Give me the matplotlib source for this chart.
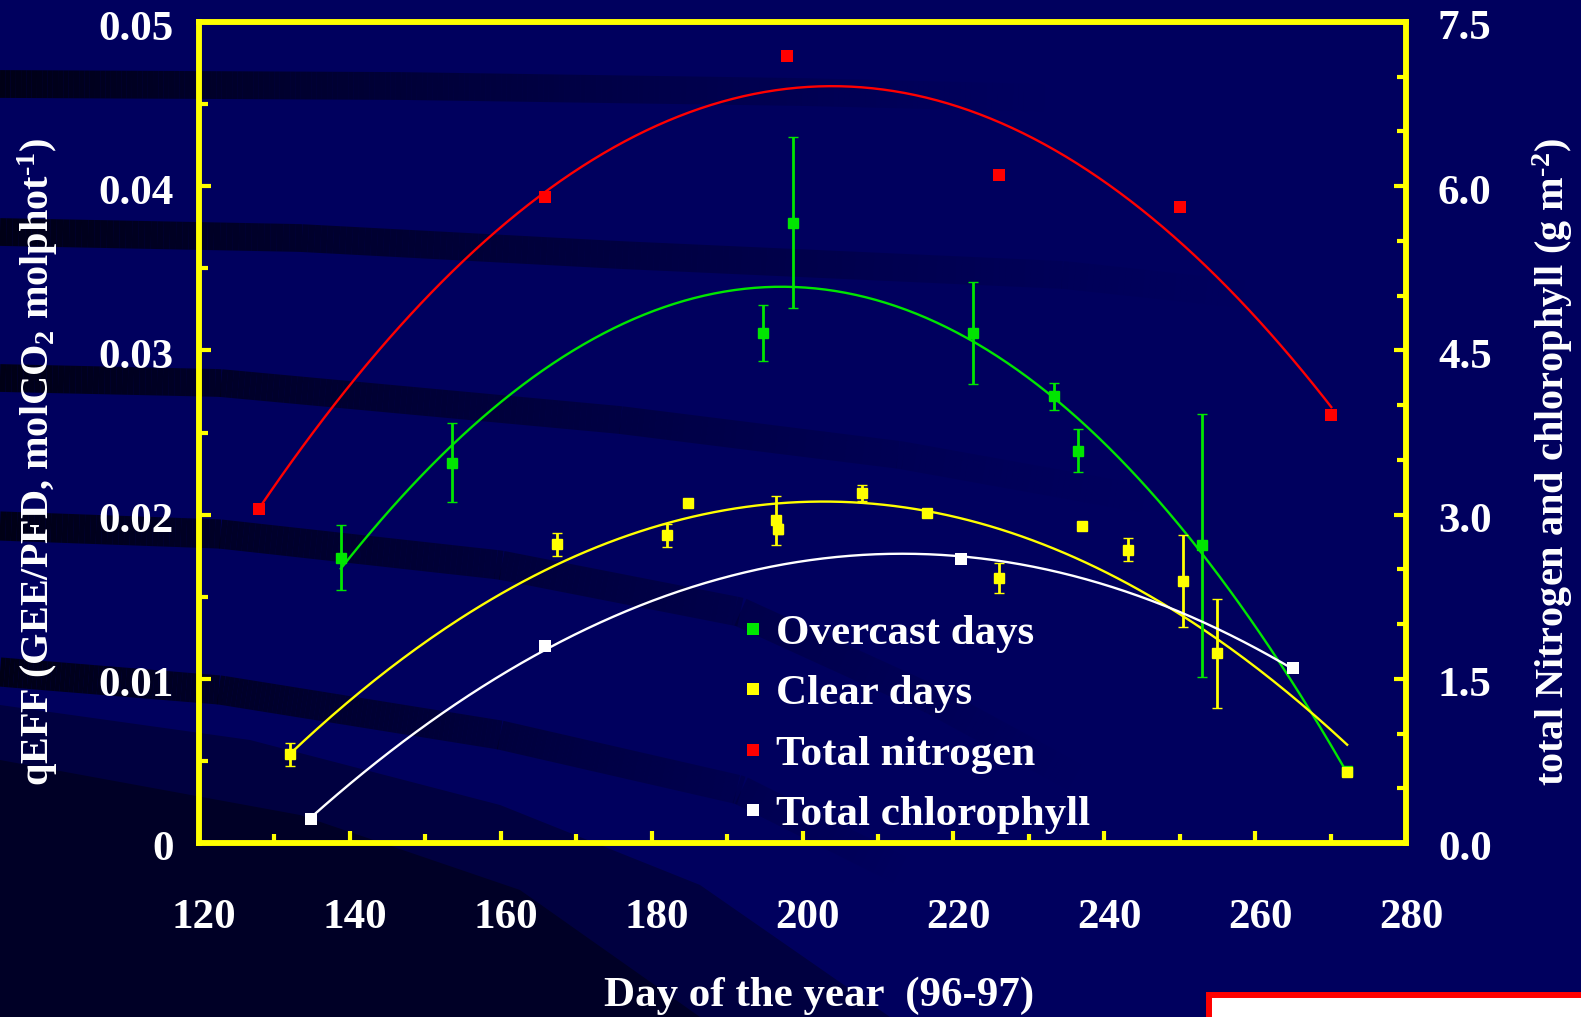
import numpy as np
import matplotlib
matplotlib.use("Agg")
import matplotlib.pyplot as plt
from matplotlib.lines import Line2D
from matplotlib.patches import Rectangle, Polygon
from matplotlib.collections import LineCollection
import matplotlib.transforms as mtrans

# ---------------- data ----------------
green_day = [138.8, 153.6, 194.7, 198.7, 222.6, 233.3, 236.5, 253.0, 272.2]
green_val = [0.01738, 0.02315, 0.03107, 0.03777, 0.03107, 0.0272, 0.02389, 0.01812, 0.00440]
green_err = [0.0020, 0.0024, 0.0017, 0.0052, 0.0031, 0.0008, 0.0013, 0.0080, 0.0]

yellow_day = [132.0, 167.5, 182.1, 184.8, 196.5, 196.8, 207.9, 216.5, 226.0, 237.1, 243.1, 250.4, 255.0, 272.2]
yellow_val = [0.0054, 0.01818, 0.01873, 0.0207, 0.01965, 0.0191, 0.02131, 0.02008, 0.01615, 0.01928,
              0.01787, 0.01597, 0.01155, 0.0043]
yellow_err = [0.0007, 0.0007, 0.0007, 0.0002, 0.0015, 0.0003, 0.0005, 0.0002, 0.0009, 0.0002,
              0.0007, 0.0028, 0.0033, 0.0002]

nitrogen_day = [128.0, 165.9, 197.9, 226.0, 250.0, 270.1]
nitrogen_val = [3.05, 5.90, 7.19, 6.10, 5.81, 3.91]

chl_day = [134.9, 165.9, 221.0, 265.0]
chl_val = [0.22, 1.80, 2.59, 1.60]

x_ticks = [120, 140, 160, 180, 200, 220, 240, 260, 280]
x_minor = [130, 150, 170, 190, 210, 230, 250, 270]
left_ticks = [0, 0.01, 0.02, 0.03, 0.04, 0.05]
left_minor = [0.005, 0.015, 0.025, 0.035, 0.045]
left_labels = ["0", "0.01", "0.02", "0.03", "0.04", "0.05"]
right_ticks = [0.0, 1.5, 3.0, 4.5, 6.0, 7.5]
right_minor = [0.5, 1.0, 2.0, 2.5, 3.5, 4.0, 5.0, 5.5, 6.5, 7.0]
right_labels = ["0.0", "1.5", "3.0", "4.5", "6.0", "7.5"]

legend_labels = ["Overcast days", "Clear days", "Total nitrogen", "Total chlorophyll"]

# ---------------- style ----------------
W, H = 1581, 1017
BG = "#00005e"
GREEN = "#00e600"
YELLOW = "#ffff00"
RED = "#ff0000"
WHITE = "#ffffff"
FRAME = "#ffff00"
FONT = "Liberation Serif"

plt.rcParams["font.family"] = [FONT, "DejaVu Serif"]
plt.rcParams["font.weight"] = "bold"
plt.rcParams["mathtext.fontset"] = "custom"
plt.rcParams["mathtext.rm"] = "Liberation Serif:bold"
plt.rcParams["mathtext.it"] = "Liberation Serif:italic:bold"
plt.rcParams["mathtext.bf"] = "Liberation Serif:bold"
plt.rcParams["mathtext.default"] = "rm"

fig = plt.figure(figsize=(W / 100, H / 100), dpi=100, facecolor=BG)

# ---------------- decorative background ----------------
bg = fig.add_axes([0, 0, 1, 1], zorder=-10)
bg.set_xlim(0, W)
bg.set_ylim(H, 0)
bg.axis("off")

bg.add_patch(Polygon([(0, 705), (250, 740), (500, 805), (700, 885), (890, 1017), (0, 1017)],
                     closed=True, facecolor="#000040", edgecolor="none"))
bg.add_patch(Polygon([(0, 760), (300, 815), (520, 890), (700, 1017), (0, 1017)],
                     closed=True, facecolor="#000026", edgecolor="none"))


def band(pts, width, power):
    pts = np.array(pts, dtype=float)
    t = np.linspace(0, 1, 200)
    seg_len = np.r_[0, np.cumsum(np.hypot(np.diff(pts[:, 0]), np.diff(pts[:, 1])))]
    s = t * seg_len[-1]
    xs = np.interp(s, seg_len, pts[:, 0])
    ys = np.interp(s, seg_len, pts[:, 1])
    segs = [[(xs[i], ys[i]), (xs[i + 1], ys[i + 1])] for i in range(len(xs) - 1)]
    alphas = (1 - t[:-1]) ** power
    cols = [(0, 0, 0.06, 0.9 * a) for a in alphas]
    bg.add_collection(LineCollection(segs, colors=cols, linewidths=width, capstyle="butt"))


band([(0, 84), (400, 86), (800, 92), (1050, 98)], 20, 1.3)
band([(0, 232), (300, 238), (620, 255), (1064, 275), (1250, 295)], 20, 1.3)
band([(0, 378), (220, 383), (620, 420), (900, 455), (1150, 500)], 20, 1.3)
band([(0, 526), (220, 534), (500, 565), (740, 612), (933, 700), (1080, 780)], 21, 1.2)
band([(0, 672), (220, 690), (500, 735), (740, 790), (900, 870)], 21, 1.0)

# white box with red border (bottom right)
bg.add_patch(Rectangle((1209, 995), 420, 60, facecolor="white", edgecolor=RED, linewidth=4.3))

# ---------------- main axes ----------------
ax = fig.add_axes([199 / W, (H - 843) / H, 1207 / W, 821 / H])
ax.set_facecolor("none")
ax2 = ax.twinx()

ax.set_xlim(120, 280)
ax.set_ylim(0, 0.05)
ax2.set_ylim(0, 7.5)

for a in (ax, ax2):
    for sp in a.spines.values():
        sp.set_color(FRAME)
        sp.set_linewidth(4)
        sp.set_capstyle("projecting")


def fit_line(axis, xd, yd, deg, color):
    c = np.polyfit(xd, yd, deg)
    xx = np.linspace(min(xd), max(xd), 300)
    axis.plot(xx, np.polyval(c, xx), color=color, lw=1.7, zorder=2)


fit_line(ax, green_day, green_val, 3, GREEN)
fit_line(ax, yellow_day, yellow_val, 2, YELLOW)
fit_line(ax2, nitrogen_day, nitrogen_val, 2, RED)
fit_line(ax2, chl_day, chl_val, 2, WHITE)

eb_kw = dict(fmt="s", ms=7.5, mew=1.0, capsize=3.8, elinewidth=2.0, capthick=2.0, zorder=3)
ax.errorbar(green_day, green_val, yerr=green_err, color=GREEN, mec=GREEN, **eb_kw)
ax.errorbar(yellow_day, yellow_val, yerr=yellow_err, color=YELLOW, mec=YELLOW, **eb_kw)
ax2.plot(nitrogen_day, nitrogen_val, "s", color=RED, ms=8.5, mew=0, zorder=3)
ax2.plot(chl_day, chl_val, "s", color=WHITE, ms=8.5, mew=0, zorder=3)

# ticks
ax.set_xticks(x_ticks)
ax.set_xticks(x_minor, minor=True)
ax.set_xticklabels([str(v) for v in x_ticks])
ax.set_yticks(left_ticks)
ax.set_yticks(left_minor, minor=True)
ax.set_yticklabels(left_labels)
ax2.set_yticks(right_ticks)
ax2.set_yticks(right_minor, minor=True)
ax2.set_yticklabels(right_labels)

ax.tick_params(axis="x", which="both", direction="in", color=FRAME, width=3, top=False,
               labelsize=31, labelcolor="white", pad=40)
ax.tick_params(axis="x", which="major", length=8.6)
ax.tick_params(axis="x", which="minor", length=6.5)
ax.tick_params(axis="y", which="both", direction="in", color=FRAME, width=3, right=False,
               labelsize=31, labelcolor="white", pad=18)
ax.tick_params(axis="y", which="major", length=8.6)
ax.tick_params(axis="y", which="minor", length=6.5)
ax2.tick_params(axis="y", which="both", direction="in", color=FRAME, width=3,
                labelsize=31, labelcolor="white", pad=23)
ax2.tick_params(axis="y", which="major", length=8.6)
ax2.tick_params(axis="y", which="minor", length=6.5)

for lab in ax.get_xticklabels():
    lab.set_fontweight("bold")
    lab.set_transform(lab.get_transform() + mtrans.ScaledTranslation(5 / 100, 0, fig.dpi_scale_trans))
for lab in ax.get_yticklabels() + ax2.get_yticklabels():
    lab.set_fontweight("bold")
    lab.set_transform(lab.get_transform() + mtrans.ScaledTranslation(0, -3 / 100, fig.dpi_scale_trans))

# axis labels
ax.set_xlabel("Day of the year  (96-97)", fontsize=31, color="white", fontweight="bold")
ax.xaxis.set_label_coords((819 - 199) / 1207, (843 - 996) / 821)
ax.xaxis.label.set_va("center")
ax.set_ylabel(r"qEFF (GEE/PFD, molCO$_2$ molphot$^{\text{-1}}$)", fontsize=29, color="white",
              fontweight="bold")
ax.yaxis.set_label_coords((38 - 199) / 1207, (843 - 462) / 821)
ax.yaxis.label.set_va("center")
ax2.set_ylabel(r"total Nitrogen and chlorophyll (g m$^{\text{-2}}$)", fontsize=29, color="white",
               fontweight="bold", rotation=90)
ax2.yaxis.set_label_coords((1553 - 199) / 1207, (843 - 462) / 821)
ax2.yaxis.label.set_va("center")

# legend
handles = [Line2D([], [], ls="none", marker="s", ms=8.5, mew=0, color=c)
           for c in (GREEN, YELLOW, RED, WHITE)]
leg = ax2.legend(handles, legend_labels, loc="upper left",
                 bbox_to_anchor=(742 / W, 1 - 614 / H), bbox_transform=fig.transFigure,
                 frameon=False, fontsize=31, handlelength=0.5, handletextpad=0.3,
                 labelspacing=0.49, borderpad=0, borderaxespad=0)
for t in leg.get_texts():
    t.set_color("white")
    t.set_fontweight("bold")

fig.savefig("out.png", dpi=100, facecolor=BG)
